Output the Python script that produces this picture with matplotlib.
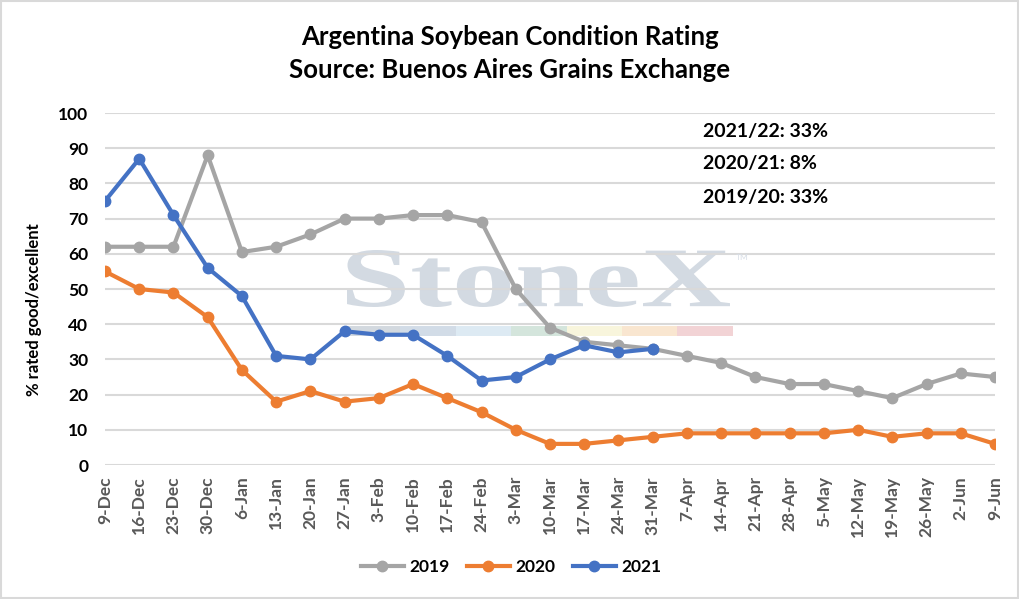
import matplotlib
matplotlib.use("Agg")
import matplotlib.pyplot as plt
from matplotlib.patches import Rectangle, PathPatch
from matplotlib.textpath import TextPath
from matplotlib.font_manager import FontProperties
from matplotlib.transforms import Affine2D

plt.rcParams['font.family'] = ['Lato', 'DejaVu Sans']

weeks = ["9-Dec", "16-Dec", "23-Dec", "30-Dec", "6-Jan", "13-Jan", "20-Jan", "27-Jan",
         "3-Feb", "10-Feb", "17-Feb", "24-Feb", "3-Mar", "10-Mar", "17-Mar", "24-Mar",
         "31-Mar", "7-Apr", "14-Apr", "21-Apr", "28-Apr", "5-May", "12-May", "19-May",
         "26-May", "2-Jun", "9-Jun"]

y2019 = [62, 62, 62, 88, 60.5, 62, 65.5, 70, 70, 71, 71, 69, 50, 39, 35, 34, 33,
         31, 29, 25, 23, 23, 21, 19, 23, 26, 25]
y2020 = [55, 50, 49, 42, 27, 18, 21, 18, 19, 23, 19, 15, 10, 6, 6, 7, 8,
         9, 9, 9, 9, 9, 10, 8, 9, 9, 6]
y2021 = [75, 87, 71, 56, 48, 31, 30, 38, 37, 37, 31, 24, 25, 30, 34, 32, 33]

notes = ["2021/22: 33%", "2020/21: 8%", "2019/20: 33%"]

W, H = 1019, 599
fig = plt.figure(figsize=(W / 100, H / 100), dpi=100)
ax = fig.add_axes([105 / W, 1 - 465 / H, 890 / W, 352 / H])

# StoneX watermark, stretched to its box
tp = TextPath((0, 0), "StoneX", size=100,
              prop=FontProperties(family='Liberation Serif', weight='bold'))
bb = tp.get_extents()
bx0, bx1, by0, by1 = 347 / W, 730 / W, 1 - 307 / H, 1 - 250 / H
tr = Affine2D().translate(-bb.x0, -bb.y0).scale((bx1 - bx0) / bb.width, (by1 - by0) / bb.height) \
    .translate(bx0, by0) + fig.transFigure
fig.add_artist(PathPatch(tp, transform=tr, color='#d3dae2', lw=0, zorder=0))
fig.text(736 / W, 1 - 260 / H, "TM", fontsize=6, color='#d8dee6', zorder=0)
bar_cols = ['#d3d9df', '#d2dce7', '#ddeaf3', '#d4e5dc', '#f8f5dc', '#f9e6d0', '#f2d3d5']
for i, c in enumerate(bar_cols):
    x0 = 345 + i * 55.4
    fig.add_artist(Rectangle((x0 / W, 1 - 336 / H), 55.4 / W, 10 / H,
                             transform=fig.transFigure, color=c, zorder=0, lw=0))
ax.set_facecolor('none')

x = list(range(len(weeks)))
ax.plot(x, y2019, color='#a5a5a5', lw=3, marker='o', ms=7.5, label='2019', zorder=3)
ax.plot(x, y2020, color='#ed7d31', lw=3, marker='o', ms=7.5, label='2020', zorder=3)
ax.plot(x[:len(y2021)], y2021, color='#4472c4', lw=3, marker='o', ms=7.5, label='2021', zorder=4)

ax.set_xlim(0, len(weeks) - 1)
ax.set_ylim(0, 100)
ax.set_yticks(range(0, 101, 10))
ax.set_xticks(x)
ax.set_xticklabels(weeks, rotation=90, fontsize=12.5, fontweight='bold', color='#595959')
ax.tick_params(axis='y', labelsize=12.5, length=0, pad=12)
ax.tick_params(axis='x', length=0, pad=8)
for lab in ax.get_yticklabels():
    lab.set_fontweight('bold')
ax.grid(axis='y', color='#d9d9d9', lw=1.5)
ax.set_axisbelow(True)
for s in ax.spines.values():
    s.set_visible(False)

ax.set_ylabel("% rated good/excellent", fontsize=12, fontweight='bold')
ax.yaxis.set_label_coords((42 - 105) / 890, (465 - 310) / 352)

fig.text(510 / W, 1 - 37 / H, "Argentina Soybean Condition Rating", fontsize=18.5,
         fontweight='bold', ha='center', va='center')
fig.text(510 / W, 1 - 70 / H, "Source: Buenos Aires Grains Exchange", fontsize=18.5,
         fontweight='bold', ha='center', va='center')

for i, t in enumerate(notes):
    fig.text(703 / W, 1 - (131 + 33 * i) / H, t, fontsize=14, fontweight='bold',
             ha='left', va='center')

ax.legend(loc='center', bbox_to_anchor=(511 / W, 1 - 567 / H), bbox_transform=fig.transFigure,
          ncol=3, frameon=False, prop={'weight': 'bold', 'size': 12.5}, handlelength=2.5,
          columnspacing=1.0, handletextpad=0.3)

fig.add_artist(Rectangle((0.001, 0.001), 0.998, 0.997, transform=fig.transFigure,
                         fill=False, ec='#d9d9d9', lw=1.5))

fig.savefig('out.png', dpi=100)
